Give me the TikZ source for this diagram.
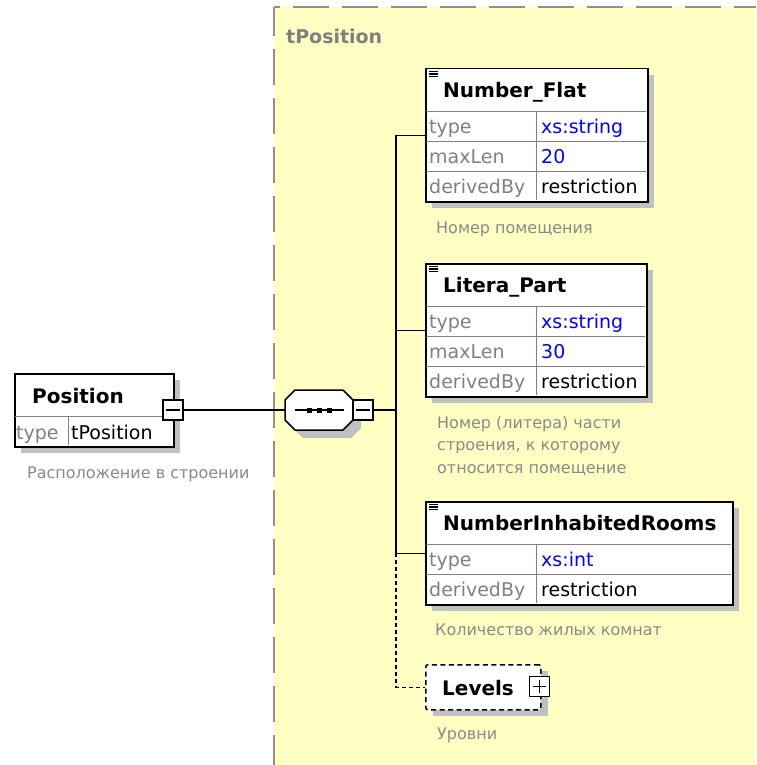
\documentclass[tikz,border=0pt]{standalone}
\usepackage{fontspec}
\setmainfont{DejaVu Sans}
\definecolor{bg}{HTML}{FFFFC4}
\definecolor{shd}{HTML}{C0C0C0}
\definecolor{lblc}{HTML}{808080}
\definecolor{capc}{HTML}{8A8A8A}
\definecolor{brd}{HTML}{909090}
\definecolor{valc}{HTML}{0000FF}
\newcommand\hdrfont{\fontsize{20}{24}\selectfont\bfseries}
\newcommand\rowfont{\fontsize{19}{23}\selectfont}
\newcommand\capfont{\fontsize{16}{20}\selectfont}
\newcommand\ttlfont{\fontsize{19}{23}\selectfont\bfseries}
\begin{document}
\begin{tikzpicture}[x=1pt,y=-1pt,
  region/.style={draw=brd, line width=2.5pt, dash pattern=on 36pt off 13pt},
  elem/.style={draw=black, line width=1.5pt, fill=white, inner sep=0pt, anchor=north west},
  optelem/.style={draw=black, line width=1.5pt, fill=white, inner sep=0pt, anchor=north west, dash pattern=on 5pt off 3.5pt, rounded corners=2pt},
  gridl/.style={draw=lblc, line width=0.9pt},
  hdr/.style={anchor=base west, inner sep=0pt, font=\hdrfont, text=black},
  lab/.style={anchor=base west, inner sep=0pt, font=\rowfont, text=lblc},
  val/.style={anchor=base west, inner sep=0pt, font=\rowfont, text=valc},
  txt/.style={anchor=base west, inner sep=0pt, font=\rowfont, text=black},
  capt/.style={anchor=base west, inner sep=0pt, font=\capfont, text=capc},
  sgnbox/.style={draw=black, line width=1.3pt, fill=white, minimum size=20pt, inner sep=0pt},
  sgn/.style={draw=black, line width=1.3pt},
  conn/.style={draw=black, line width=1.5pt},
  dconn/.style={draw=black, line width=1.5pt, dash pattern=on 4pt off 3pt},
  icon/.style={draw=black, line width=1.1pt}
]
\useasboundingbox (0,0) rectangle (756,765);
\fill[white] (0,0) rectangle (756,765);
% complex type region
\fill[bg] (274,7) rectangle (756,765);
\draw[region, dash phase=30pt] (274,7) -- (756,7);
\draw[region, dash phase=7pt] (274,7) -- (274,765);
\node[anchor=base west, inner sep=0pt, font=\ttlfont, text=lblc] (title) at (286,44) {tPosition};

% Position element
\fill[shd] (21,380) rectangle (180,453);
\node[elem, minimum width=159pt, minimum height=73pt] (pos) at (14,373) {};
\draw[gridl] (15,416) -- (172,416) (68,416) -- (68,445);
\node[hdr] (post) at (32,403) {Position};
\node[lab] (posa) at (16,439) {type};
\node[txt] (posb) at (71,439) {tPosition};
\node[sgnbox] (pm) at (173,410) {};
\draw[sgn] ([xshift=4pt]pm.west) -- ([xshift=-4pt]pm.east);
\node[capt] (posc) at (27,478) {Расположение в строении};

% sequence compositor
\fill[shd] (303,398) -- (351,398) -- (361,408) -- (361,428) -- (351,438) -- (303,438) -- (293,428) -- (293,408) -- cycle;
\draw[line width=1.5pt, fill=white] (295,390) -- (343,390) -- (353,400) -- (353,420) -- (343,430) -- (295,430) -- (285,420) -- (285,400) -- cycle;
\node[inner sep=0pt, minimum width=68pt, minimum height=40pt] (seq) at (319,410) {};
\draw[line width=1.5pt] (295,410) -- (344,410);
\fill (306.5,407.5) rectangle (311.5,412.5);
\fill (316.5,407.5) rectangle (321.5,412.5);
\fill (326.5,407.5) rectangle (331.5,412.5);
\node[sgnbox] (sm) at (363,410) {};
\draw[sgn] ([xshift=4pt]sm.west) -- ([xshift=-4pt]sm.east);
\coordinate (bus) at (396,410);

% Number_Flat
\fill[shd] (432,75) rectangle (654,208);
\node[elem, minimum width=222pt, minimum height=133pt] (nf) at (425,68) {};
\draw[gridl] (426,111) -- (646,111) (426,141) -- (646,141) (426,171) -- (646,171) (536,111) -- (536,200);
\draw[icon] (429,71.5) -- (438,71.5) (429,74) -- (438,74) (429,76.5) -- (438,76.5);
\node[hdr] (nft) at (443,97.5) {Number\_Flat};
\node[lab] (nfa1) at (429,133.5) {type};
\node[val] (nfb1) at (541,133.5) {xs:string};
\node[lab] (nfa2) at (429,163.5) {maxLen};
\node[val] (nfb2) at (541,163.5) {20};
\node[lab] (nfa3) at (429,193.5) {derivedBy};
\node[txt] (nfb3) at (541,193.5) {restriction};
\node[capt] (nfc) at (436,233) {Номер помещения};

% Litera_Part
\fill[shd] (432,270) rectangle (653,403);
\node[elem, minimum width=221pt, minimum height=133pt] (lp) at (425,263) {};
\draw[gridl] (426,306) -- (645,306) (426,336) -- (645,336) (426,366) -- (645,366) (536,306) -- (536,395);
\draw[icon] (429,266.5) -- (438,266.5) (429,269) -- (438,269) (429,271.5) -- (438,271.5);
\node[hdr] (lpt) at (443,292.5) {Litera\_Part};
\node[lab] (lpa1) at (429,328.5) {type};
\node[val] (lpb1) at (541,328.5) {xs:string};
\node[lab] (lpa2) at (429,358.5) {maxLen};
\node[val] (lpb2) at (541,358.5) {30};
\node[lab] (lpa3) at (429,388.5) {derivedBy};
\node[txt] (lpb3) at (541,388.5) {restriction};
\node[capt] (lpc1) at (437,428) {Номер (литера) части};
\node[capt] (lpc2) at (437,450.5) {строения, к которому};
\node[capt] (lpc3) at (437,473) {относится помещение};

% NumberInhabitedRooms
\fill[shd] (432,508) rectangle (739,611);
\node[elem, minimum width=307pt, minimum height=103pt] (nir) at (425,501) {};
\draw[gridl] (426,544) -- (731,544) (426,574) -- (731,574) (536,544) -- (536,603);
\draw[icon] (429,504.5) -- (438,504.5) (429,507) -- (438,507) (429,509.5) -- (438,509.5);
\node[hdr] (nirt) at (443,530.5) {NumberInhabitedRooms};
\node[lab] (nira1) at (429,566.5) {type};
\node[val] (nirb1) at (541,566.5) {xs:int};
\node[lab] (nira2) at (429,596.5) {derivedBy};
\node[txt] (nirb2) at (541,596.5) {restriction};
\node[capt] (nirc) at (435,635) {Количество жилых комнат};

% Levels
\fill[shd] (433,671) rectangle (548,716);
\node[optelem, minimum width=115pt, minimum height=45pt] (lv) at (425,664) {};
\node[hdr] (lvt) at (442,695) {Levels};
\node[sgnbox] (lvp) at (539.5,686.5) {};
\draw[sgn] ([xshift=4pt]lvp.west) -- ([xshift=-4pt]lvp.east) ([yshift=-4pt]lvp.north) -- ([yshift=4pt]lvp.south);
\node[capt] (lvc) at (437,739) {Уровни};

% connectors
\draw[conn] (pm.east) -- (seq.west);
\draw[conn] (sm.east) -- (bus);
\draw[conn] (nf.west -| bus) -- (nir.west -| bus);
\draw[conn] (nf.west -| bus) -- (nf.west);
\draw[conn] (lp.west -| bus) -- (lp.west);
\draw[conn] (nir.west -| bus) -- (nir.west);
\draw[dconn] (nir.west -| bus) |- (lv.west);
\end{tikzpicture}
\end{document}
